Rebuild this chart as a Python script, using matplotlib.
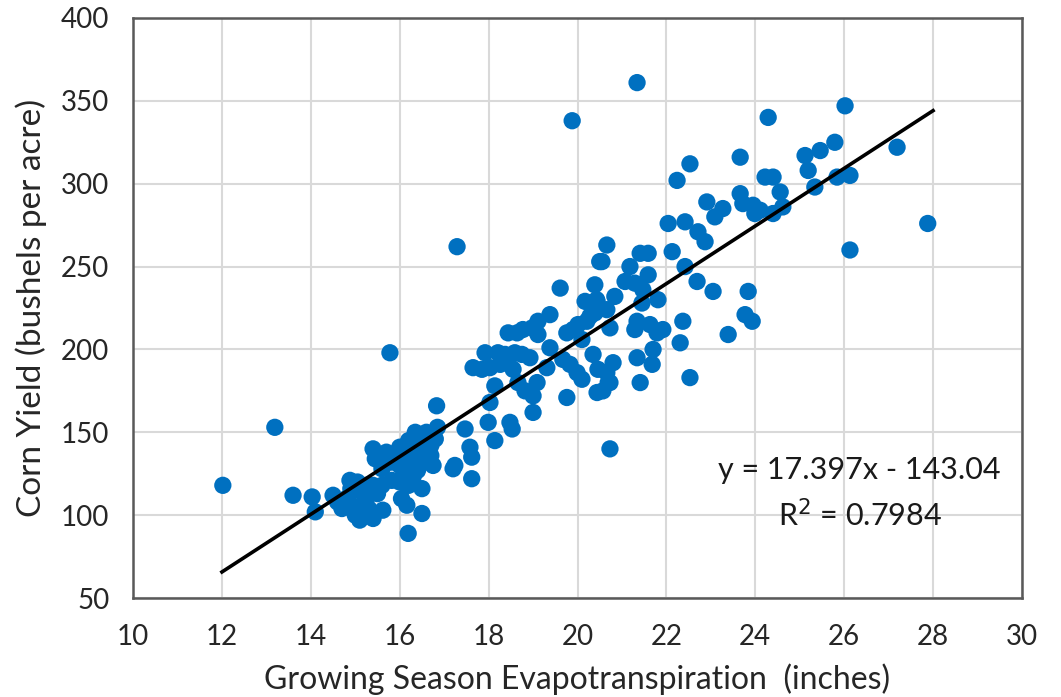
import matplotlib
matplotlib.use("Agg")
import matplotlib.pyplot as plt
import numpy as np

# Evapotranspiration (inches)
et = [
    12.02, 13.19, 13.60, 14.03, 14.10, 14.88, 15.78,
    14.50, 14.60, 14.70, 14.80, 14.90, 15.00, 15.00, 15.10, 15.10, 15.20, 15.20, 15.30, 15.30,
    15.40, 15.40, 14.90, 15.05, 15.25, 15.50, 15.60,
    15.40, 15.45, 15.60, 15.70, 15.80, 15.90, 16.00, 16.00, 16.10, 16.15, 16.20, 16.25, 16.30,
    16.35, 16.40, 16.45, 16.50, 16.55, 16.60, 16.60, 16.70, 16.75, 16.80, 16.85, 16.70, 16.40,
    16.83, 16.30, 16.00, 16.20, 15.82, 16.50, 16.04, 16.16, 15.62, 16.50, 16.19,
    17.47, 17.58, 17.62, 17.20, 17.62, 17.24, 17.29,
    19.38, 19.11, 18.98, 18.77, 18.64, 18.44, 19.11,
    19.76, 19.90, 20.01, 20.21, 20.28, 20.39, 20.66, 20.17, 20.44, 20.73, 20.10, 19.38,
    17.92, 18.21, 18.37, 18.59, 18.75, 18.93,
    17.65, 17.85, 18.03, 18.26, 18.44, 18.55,
    19.31, 19.67, 19.83, 19.99, 20.10,
    20.35, 20.46, 20.66, 20.80, 20.73, 20.57, 20.44,
    18.14, 18.66, 18.82, 19.09, 19.00, 19.76,
    18.03, 19.00, 17.99, 18.48, 18.53, 18.14, 20.73,
    19.61, 20.39, 20.43, 20.84, 20.50, 20.66, 20.55,
    22.91, 23.27, 23.09, 23.72, 23.95,
    22.04, 22.42, 22.71, 22.87,
    21.41, 21.59, 22.13, 21.18, 21.59, 22.42,
    21.07, 21.29, 21.47, 21.81, 21.45, 22.69, 23.05, 23.84,
    21.34, 21.29, 21.63, 21.79, 21.92, 22.37,
    23.77, 23.93, 23.39, 22.31, 21.70, 21.34, 21.68, 21.41, 22.53, 20.69,
    26.02, 24.29, 27.19, 25.79, 25.46, 25.12, 25.19, 23.66,
    24.22, 24.40, 24.56, 25.84, 26.13, 25.34, 23.66, 24.11, 23.99, 24.40, 24.62,
    27.88, 26.13, 21.34, 19.88, 22.53, 22.24,
]

# Corn yield (bushels per acre)
yld = [
    118, 153, 112, 111, 102, 121, 198,
    112, 108, 104, 110, 106, 100, 115, 103, 97, 108, 100, 112, 104,
    118, 98, 116, 120, 118, 113, 118,
    140, 134, 128, 138, 132, 137, 130, 141, 126, 135, 145, 131, 140,
    150, 127, 136, 145, 132, 141, 150, 136, 130, 146, 153, 142, 146,
    166, 123, 120, 118, 121, 116, 110, 106, 103, 101, 89,
    152, 141, 135, 128, 122, 130, 262,
    221, 217, 213, 212, 210, 210, 209,
    210, 212, 215, 217, 220, 222, 224, 229, 229, 213, 206, 201,
    198, 198, 197, 198, 197, 195,
    189, 188, 189, 191, 192, 188,
    189, 194, 191, 186, 182,
    197, 188, 186, 192, 180, 175, 174,
    178, 180, 175, 180, 172, 171,
    168, 162, 156, 156, 152, 145, 140,
    237, 239, 230, 232, 253, 263, 253,
    289, 285, 280, 288, 287,
    276, 277, 271, 265,
    258, 258, 259, 250, 245, 250,
    241, 240, 236, 230, 228, 241, 235, 235,
    217, 212, 215, 210, 212, 217,
    221, 217, 209, 204, 200, 195, 191, 180, 183, 180,
    347, 340, 322, 325, 320, 317, 308, 316,
    304, 304, 295, 304, 305, 298, 294, 284, 282, 282, 286,
    276, 260, 361, 338, 312, 302,
]

slope, intercept = 17.397, -143.04
line_x = [12, 28]

plt.rcParams['font.family'] = ['Lato', 'DejaVu Sans']

fig = plt.figure(figsize=(10.61, 6.97), dpi=100)
ax = fig.add_axes([0.1254, 0.142, 0.8378, 0.8322])

ax.scatter(et, yld, s=155, color='#0070C0', edgecolors='none', zorder=3)
ax.plot(line_x, [slope * v + intercept for v in line_x], color='black', lw=2.6, zorder=4)

ax.set_xlim(10, 30)
ax.set_ylim(50, 400)
ax.set_xticks(np.arange(10, 31, 2))
ax.set_yticks(np.arange(50, 401, 50))
ax.grid(True, color='#d9d9d9', lw=1.5, zorder=0)
ax.set_axisbelow(True)
for sp in ax.spines.values():
    sp.set_color('#595959')
    sp.set_linewidth(1.8)
ax.tick_params(length=0, labelsize=20, colors='#262626')
ax.tick_params(axis='x', pad=19)
ax.tick_params(axis='y', pad=17)

ax.set_xlabel('Growing Season Evapotranspiration  (inches)', fontsize=23, color='#262626', labelpad=9)
ax.set_ylabel('Corn Yield (bushels per acre)', fontsize=24, color='#262626', labelpad=10)

ax.text(26.35, 127, 'y = 17.397x - 143.04', fontsize=22, color='#1a1a1a', ha='center', va='center')
ax.text(26.35, 100, 'R$^2$ = 0.7984', fontsize=22, color='#1a1a1a', ha='center', va='center')

fig.savefig('out.png', dpi=100)
